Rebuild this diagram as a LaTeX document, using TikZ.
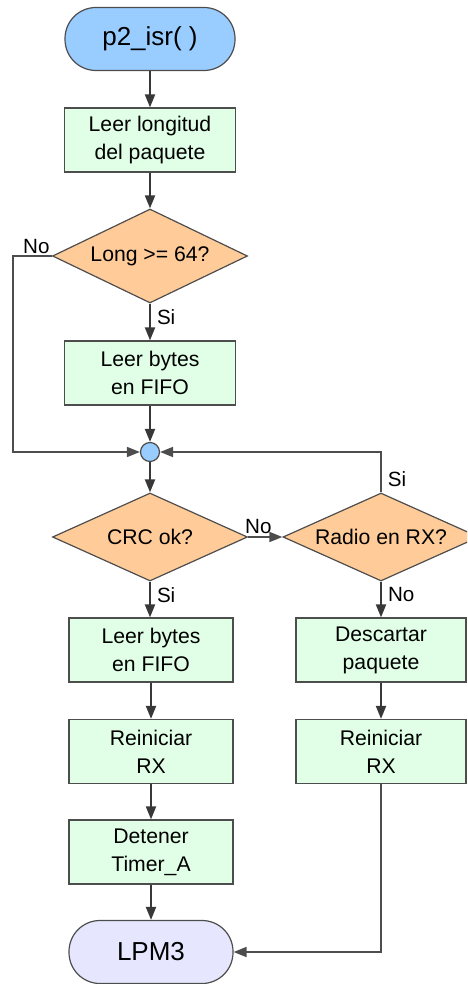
\documentclass[tikz,border=0pt]{standalone}
\usepackage{fontspec}
\setmainfont{Liberation Sans}
\usetikzlibrary{shapes.geometric,arrows.meta}

\definecolor{termblue}{HTML}{99CCFF}
\definecolor{termlav}{HTML}{E6E6FF}
\definecolor{procgreen}{HTML}{E0FFE6}
\definecolor{decorange}{HTML}{FFCC99}
\definecolor{edgegray}{HTML}{4D4D4D}
\definecolor{flowgray}{HTML}{383838}

\tikzset{
  terminal/.style={draw=edgegray, line width=0.6pt, rectangle, rounded corners=15.5pt,
    minimum width=85pt, minimum height=31.5pt, inner sep=0pt, font=\fontsize{13}{15}\selectfont},
  procbox/.style={draw=edgegray, line width=0.6pt, fill=procgreen, rectangle,
    minimum height=32pt, inner sep=0pt, align=center, font=\fontsize{10.6}{14}\selectfont},
  decision/.style={draw=edgegray, line width=0.6pt, fill=decorange, diamond, inner sep=0pt},
  dectext/.style={inner sep=0pt, font=\fontsize{10.6}{13}\selectfont},
  junction/.style={draw=edgegray, line width=0.6pt, fill=termblue, circle, minimum size=9.5pt, inner sep=0pt},
  flow/.style={draw=flowgray, line width=1pt, -{Triangle[length=6.5pt,width=5pt]}},
  branch/.style={draw=edgegray, line width=0.8pt, -{Triangle[length=6.5pt,width=5pt]}},
  lbl/.style={font=\fontsize{10.3}{12}\selectfont, inner sep=1.5pt},
  rlbl/.style={lbl, right, inner sep=3pt}
}

\begin{document}
\begin{tikzpicture}[x=0.5pt, y=-0.5pt]
\useasboundingbox (0,0) rectangle (467,984);
\clip (0,0) rectangle (467,984);

% main column
\node[terminal, fill=termblue] (start) at (150,39) {p2\_isr( )};
\node[procbox, minimum width=85.5pt] (len) at (150,140) {Leer longitud\\del paquete};
\node[decision, minimum width=97.5pt, minimum height=47pt] (long) at (150,256) {};
\node[dectext] at (long.center) {Long >= 64?};
\node[procbox, minimum width=85.5pt] (fifo1) at (150,373) {Leer bytes\\en FIFO};
\node[junction] (join) at (150,452) {};
\node[decision, minimum width=97.5pt, minimum height=44pt] (crc) at (150,537) {};
\node[dectext] at (crc.center) {CRC ok?};
\node[decision, minimum width=98pt, minimum height=44pt] (radio) at (381,537) {};
\node[dectext] at (radio.center) {Radio en RX?};

% left branch
\node[procbox, minimum width=82pt] (fifo2) at (151,650) {Leer bytes\\en FIFO};
\node[procbox, minimum width=82pt] (rst1) at (151,751.5) {Reiniciar\\RX};
\node[procbox, minimum width=82pt] (stop) at (151,852) {Detener\\Timer\_A};
\node[terminal, fill=termlav, minimum width=82pt] (lpm) at (151,952) {LPM3};

% right branch
\node[procbox, minimum width=85pt] (drop) at (381,650) {Descartar\\paquete};
\node[procbox, minimum width=85pt] (rst2) at (381,751.5) {Reiniciar\\RX};

% connectors
\draw[flow] (start) -- (len);
\draw[flow] (len) -- (long);
\draw[flow] (long.south) -- node[rlbl, pos=0.37] {Si} (fifo1.north);
\draw[branch] (long.west) -- (13,256) |- (join.west);
\node[lbl, above left, inner sep=1pt] at (long.west) {No};
\draw[flow] (fifo1) -- (join);
\draw[flow] (join) -- (crc);
\draw[branch] (crc.east) -- node[lbl, pos=0.3, above] {No} (radio.west);
\draw[branch] (radio.north) -- node[rlbl, pos=0.32] {Si} (381,452) -- (join.east);
\draw[flow] (crc.south) -- node[rlbl, pos=0.37] {Si} (crc.south |- fifo2.north);
\draw[flow] (radio.south) -- node[rlbl, pos=0.37] {No} (drop.north);
\draw[flow] (fifo2) -- (rst1);
\draw[flow] (rst1) -- (stop);
\draw[flow] (stop) -- (lpm);
\draw[flow] (drop) -- (rst2);
\draw[branch] (rst2.south) |- (lpm.east);
\end{tikzpicture}
\end{document}
